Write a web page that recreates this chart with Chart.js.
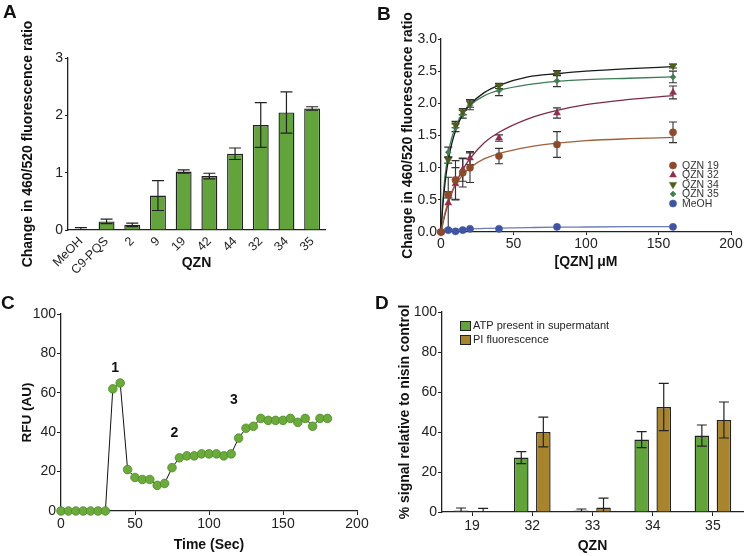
<!DOCTYPE html>
<html lang="en">
<head>
<meta charset="UTF-8">
<title>QZN fluorescence panels</title>
<script src="https://cdn.jsdelivr.net/npm/chart.js"></script>
<style>
  body { margin: 0; background: #fff; }
  #wrap { position: relative; width: 746px; height: 556px; background: #fff; }
  #wrap canvas { position: absolute; }
  .tag { position: absolute; font: bold 19px Arial, "Liberation Sans", sans-serif; line-height: 19px; color: #111; }
</style>
</head>
<body>
<div id="wrap">
  <canvas id="chartA" width="373" height="278" style="left:0;top:0"></canvas>
  <canvas id="chartB" width="373" height="278" style="left:373px;top:0"></canvas>
  <canvas id="chartC" width="373" height="278" style="left:0;top:278px"></canvas>
  <canvas id="chartD" width="373" height="278" style="left:373px;top:278px"></canvas>
  <div class="tag" style="left:3px;top:2px">A</div>
  <div class="tag" style="left:377px;top:4px">B</div>
  <div class="tag" style="left:1px;top:293px">C</div>
  <div class="tag" style="left:375px;top:293px">D</div>
</div>

<script>
// ---- panel A: ratio change per compound
const aLabels = ['MeOH', 'C9-PQS', '2', '9', '19', '42', '44', '32', '34', '35'];
const aValues = [0, 0.15, 0.09, 0.60, 1.02, 0.94, 1.33, 1.83, 2.05, 2.12];
const aErrors = [0.04, 0.04, 0.03, 0.26, 0.03, 0.05, 0.10, 0.39, 0.36, 0.03];

// ---- panel B: dose response
const bDoses = [0, 5, 10, 15, 20, 40, 80, 160];
const qzn19 = [0, 0.58, 0.81, 0.92, 1.00, 1.18, 1.36, 1.55];
const qzn19Err = [0, 0.05, 0.30, 0.22, 0.23, 0.12, 0.20, 0.16];
const qzn32 = [0, 0.45, 0.75, 0.97, 1.15, 1.46, 1.85, 2.17];
const qzn32Err = [0, 0.40, 0.25, 0.18, 0.10, 0.05, 0.08, 0.10];
const qzn34 = [0, 1.12, 1.67, 1.87, 2.00, 2.27, 2.47, 2.58];
const qzn34Err = [0, 0.05, 0.05, 0.05, 0.06, 0.04, 0.04, 0.03];
const qzn35 = [0, 1.24, 1.62, 1.83, 1.97, 2.20, 2.35, 2.41];
const qzn35Err = [0, 0.08, 0.06, 0.06, 0.07, 0.08, 0.09, 0.09];
const meoh = [0, 0.03, 0.01, 0.03, 0.05, 0.05, 0.08, 0.08];

// fitted curves
const fitX = [0, 1, 2, 3, 5, 7.5, 10, 15, 20, 30, 40, 60, 80, 100, 130, 160];
const fit19 = [0, 0.12, 0.23, 0.32, 0.47, 0.62, 0.73, 0.89, 1.00, 1.14, 1.22, 1.32, 1.38, 1.42, 1.45, 1.47];
const fit32 = [0, 0.10, 0.20, 0.29, 0.44, 0.61, 0.75, 0.97, 1.14, 1.39, 1.55, 1.76, 1.89, 1.98, 2.06, 2.12];
const fit34 = [0, 0.33, 0.59, 0.80, 1.11, 1.38, 1.57, 1.83, 1.98, 2.17, 2.28, 2.41, 2.46, 2.50, 2.54, 2.57];
const fit35 = [0, 0.40, 0.69, 0.91, 1.22, 1.47, 1.63, 1.85, 1.97, 2.12, 2.20, 2.29, 2.34, 2.37, 2.39, 2.41];
const fitMeoh = [0, 0.01, 0.02, 0.025, 0.03, 0.035, 0.04, 0.045, 0.05, 0.055, 0.06, 0.068, 0.075, 0.078, 0.082, 0.085];

// ---- panel C: time course
const cTime = [0, 5, 10, 15, 20, 25, 30, 35, 40, 45, 50, 55, 60, 65, 70, 75, 80, 85, 90, 95, 100,
  105, 110, 115, 120, 125, 130, 135, 140, 145, 150, 155, 160, 165, 170, 175, 180];
const cRfu = [0, 0, 0, 0, 0, 0, 0, 62, 65, 21, 17, 16, 16, 13, 14, 22, 27, 28, 28, 29, 29,
  29, 28, 29, 37, 42, 43, 47, 46, 46, 46, 47, 45, 47, 43, 47, 47];
const peakLabels = ['1', '2', '3'];
const peakLabelX = [36.5, 76.7, 116.9];
const peakLabelY = [72.6, 39.6, 56.3];

// ---- panel D: ATP release vs PI
const dLabels = ['19', '32', '33', '34', '35'];
const atpValues = [0.8, 27.2, 0.8, 36.2, 38.2];
const atpErrors = [1.2, 3.0, 0.7, 4.0, 5.3];
const piValues = [0.4, 40.0, 2.2, 52.5, 46.0];
const piErrors = [1.4, 7.4, 4.7, 11.8, 9.0];

const FONT = 'Arial, "Liberation Sans", sans-serif';
Chart.defaults.font.family = FONT;
Chart.defaults.color = '#222';
Chart.defaults.animation = false;
Chart.defaults.plugins.legend.display = false;
Chart.defaults.plugins.tooltip.enabled = false;

const GREEN = '#63a33c';
const BROWN = '#a8842f';
const INK = '#222';

// error bars drawn through the chart's own y scale
const errorBars = {
  id: 'errorBars',
  draw(chart, opts) {
    const ctx = chart.ctx, area = chart.chartArea;
    ctx.save();
    ctx.beginPath();
    ctx.rect(area.left - 10, area.top - 30, area.width + 20, area.height + 30);
    ctx.clip();
    ctx.strokeStyle = opts.color || INK;
    ctx.lineWidth = opts.width || 1.2;
    chart.data.datasets.forEach((ds, i) => {
      if (!ds.errors) return;
      const meta = chart.getDatasetMeta(i);
      const yScale = chart.scales[meta.yAxisID];
      meta.data.forEach((el, j) => {
        const e = ds.errors[j];
        if (!e) return;
        const raw = ds.data[j];
        const v = typeof raw === 'object' ? raw.y : raw;
        const x = el.x;
        const y1 = yScale.getPixelForValue(v + e);
        const y2 = yScale.getPixelForValue(v - e);
        const c = opts.cap / 2;
        ctx.beginPath();
        ctx.moveTo(x, y1); ctx.lineTo(x, y2);
        ctx.moveTo(x - c, y1); ctx.lineTo(x + c, y1);
        ctx.moveTo(x - c, y2); ctx.lineTo(x + c, y2);
        ctx.stroke();
      });
    });
    ctx.restore();
  },
  beforeDatasetsDraw(chart, args, opts) { if (!opts.after) this.draw(chart, opts); },
  afterDatasetsDraw(chart, args, opts) { if (opts.after) this.draw(chart, opts); }
};

function axis(extra) {
  return Object.assign({
    border: { display: true, color: INK, width: 1.3 },
    grid: { display: true, drawOnChartArea: false, drawTicks: true, tickLength: 4, color: INK, lineWidth: 1.2 }
  }, extra);
}
function title(text, size, pad) {
  return { display: true, text: text, color: '#111', font: { size: size, weight: 'bold' }, padding: pad };
}

// ---------------- A
new Chart(document.getElementById('chartA'), {
  type: 'bar',
  data: {
    labels: aLabels,
    datasets: [{
      data: aValues, errors: aErrors,
      backgroundColor: GREEN, borderColor: INK, borderWidth: 1.4,
      categoryPercentage: 1, barPercentage: 0.62
    }]
  },
  options: {
    responsive: false,
    layout: { padding: { left: 0, top: 58, right: 48, bottom: 0 } },
    plugins: { errorBars: { cap: 12, after: true } },
    scales: {
      x: axis({
        grid: { display: true, drawOnChartArea: false, drawTicks: false, color: INK },
        ticks: { font: { size: 12.5 }, autoSkip: false, maxRotation: 45, minRotation: 45, padding: 4, color: '#222' },
        title: title('QZN', 14, { top: 0, bottom: 6.6 }),
        afterFit: s => { s.height = 48; }
      }),
      y: axis({
        min: 0, max: 3,
        ticks: { stepSize: 1, font: { size: 14 }, padding: 2, color: '#222' },
        grid: { display: true, drawOnChartArea: false, drawTicks: true, tickLength: 3, color: INK },
        title: title('Change in 460/520 fluorescence ratio', 14, { top: 20, bottom: 0 }),
        afterFit: s => { s.width = 68; }
      })
    }
  },
  plugins: [errorBars]
});

// ---------------- B
const xy = (xs, ys) => xs.map((x, i) => ({ x: x, y: ys[i] }));
const bPoints = [
  { label: 'QZN 19', ys: qzn19, err: qzn19Err, color: '#8b4a2c', style: 'circle', rot: 0, r: 3.6 },
  { label: 'QZN 32', ys: qzn32, err: qzn32Err, color: '#8e2f4c', style: 'triangle', rot: 0, r: 4 },
  { label: 'QZN 34', ys: qzn34, err: qzn34Err, color: '#4d5e1c', style: 'triangle', rot: 180, r: 4.2 },
  { label: 'QZN 35', ys: qzn35, err: qzn35Err, color: '#3f7f50', style: 'rectRot', rot: 0, r: 3 },
  { label: 'MeOH', ys: meoh, err: null, color: '#3f55a2', style: 'circle', rot: 0, r: 3.6 }
];
const bFits = [
  { ys: fit19, color: '#a0603c' },
  { ys: fit32, color: '#7d2a48' },
  { ys: fit34, color: '#1a1a1a' },
  { ys: fit35, color: '#3d7d55' },
  { ys: fitMeoh, color: '#6a7bb8' }
];
const bDatasets = bPoints.map(p => ({
  label: p.label, data: xy(bDoses, p.ys), errors: p.err, showLine: false, clip: false,
  pointStyle: p.style, rotation: p.rot, pointRadius: p.r,
  backgroundColor: p.color, borderColor: p.color, pointBorderWidth: 0.5
})).concat(bFits.map(f => ({
  data: xy(fitX, f.ys), showLine: true, pointRadius: 0, borderColor: f.color,
  borderWidth: 1.3, cubicInterpolationMode: 'monotone', fill: false
})));

const bLegend = {
  id: 'bLegend',
  afterDraw(chart) {
    const ctx = chart.ctx;
    ctx.save();
    ctx.font = '10.5px ' + FONT;
    ctx.textBaseline = 'middle';
    ctx.textAlign = 'left';
    bPoints.forEach((p, i) => {
      const y = 165.5 + i * 9.5;
      ctx.fillStyle = p.color; ctx.strokeStyle = p.color; ctx.lineWidth = 0.5;
      Chart.helpers.drawPoint(ctx, { pointStyle: p.style, radius: p.r, rotation: p.rot, borderWidth: 0.5 }, 300, y);
      ctx.fillStyle = '#333';
      ctx.fillText(p.label, 309, y + 0.5);
    });
    ctx.restore();
  }
};

new Chart(document.getElementById('chartB'), {
  type: 'scatter',
  data: { datasets: bDatasets },
  options: {
    responsive: false,
    layout: { padding: { left: 0, top: 39, right: 15, bottom: 0 } },
    plugins: { errorBars: { cap: 8, after: false, color: '#333', width: 1.1 } },
    scales: {
      x: axis({
        type: 'linear', min: 0, max: 200,
        ticks: { stepSize: 50, font: { size: 14 }, padding: 1, color: '#222' },
        grid: { display: true, drawOnChartArea: false, drawTicks: true, tickLength: 3, color: INK },
        title: title('[QZN] \u03BCM', 14, { top: 0, bottom: 7.6 }),
        afterFit: s => { s.height = 46; }
      }),
      y: axis({
        min: 0, max: 3,
        ticks: { stepSize: 0.5, font: { size: 14 }, padding: 1, color: '#222', callback: v => v.toFixed(1) },
        grid: { display: true, drawOnChartArea: false, drawTicks: true, tickLength: 3, color: INK },
        title: title('Change in 460/520 fluorescence ratio', 14, { top: 26.6, bottom: 0 }),
        afterFit: s => { s.width = 68; }
      })
    }
  },
  plugins: [errorBars, bLegend]
});

// ---------------- C
const peakText = {
  id: 'peakText',
  afterDatasetsDraw(chart) {
    const { ctx, scales } = chart;
    ctx.save();
    ctx.font = 'bold 14px ' + FONT;
    ctx.fillStyle = '#111';
    ctx.textAlign = 'center';
    ctx.textBaseline = 'middle';
    peakLabels.forEach((t, i) => {
      ctx.fillText(t, scales.x.getPixelForValue(peakLabelX[i]), scales.y.getPixelForValue(peakLabelY[i]));
    });
    ctx.restore();
  }
};

new Chart(document.getElementById('chartC'), {
  type: 'scatter',
  data: {
    datasets: [{
      data: xy(cTime, cRfu), showLine: true, clip: false,
      borderColor: '#111', borderWidth: 1,
      pointRadius: 4.3, pointBackgroundColor: '#6cab3b', pointBorderColor: '#4c8a2a', pointBorderWidth: 0.8
    }]
  },
  options: {
    responsive: false,
    layout: { padding: { left: 0, top: 36, right: 16, bottom: 0 } },
    scales: {
      x: axis({
        type: 'linear', min: 0, max: 200,
        ticks: { stepSize: 50, font: { size: 14 }, padding: 1, color: '#222' },
        grid: { display: true, drawOnChartArea: false, drawTicks: true, tickLength: 4, color: INK },
        title: title('Time (Sec)', 14, { top: 0, bottom: 2 }),
        afterFit: s => { s.height = 45; }
      }),
      y: axis({
        min: 0, max: 100,
        ticks: { stepSize: 20, font: { size: 14 }, padding: 1, color: '#222' },
        grid: { display: true, drawOnChartArea: false, drawTicks: true, tickLength: 4, color: INK },
        title: title('RFU (AU)', 13.5, { top: 19, bottom: 0 }),
        afterFit: s => { s.width = 61; }
      })
    }
  },
  plugins: [peakText]
});

// ---------------- D
const dLegend = {
  id: 'dLegend',
  afterDraw(chart) {
    const ctx = chart.ctx;
    const items = [['ATP present in supermatant', GREEN], ['PI fluorescence', BROWN]];
    ctx.save();
    ctx.font = '11px ' + FONT;
    ctx.textBaseline = 'middle';
    items.forEach((it, i) => {
      const y = 43 + i * 14;
      ctx.fillStyle = it[1];
      ctx.fillRect(87, y, 10, 9);
      ctx.strokeStyle = INK; ctx.lineWidth = 1;
      ctx.strokeRect(87.5, y + 0.5, 10, 9);
      ctx.fillStyle = '#222';
      ctx.fillText(it[0], 100, y + 5);
    });
    ctx.restore();
  }
};

new Chart(document.getElementById('chartD'), {
  type: 'bar',
  data: {
    labels: dLabels,
    datasets: [
      { label: 'ATP present in supermatant', data: atpValues, errors: atpErrors,
        backgroundColor: GREEN, borderColor: INK, borderWidth: 1.4, categoryPercentage: 0.733, barPercentage: 0.66 },
      { label: 'PI fluorescence', data: piValues, errors: piErrors,
        backgroundColor: BROWN, borderColor: INK, borderWidth: 1.4, categoryPercentage: 0.733, barPercentage: 0.66 }
    ]
  },
  options: {
    responsive: false,
    layout: { padding: { left: 0, top: 34, right: 3, bottom: 0 } },
    plugins: { errorBars: { cap: 10, after: true } },
    scales: {
      x: axis({
        ticks: { font: { size: 14 }, padding: 2, color: '#222' },
        grid: { display: true, drawOnChartArea: false, drawTicks: true, tickLength: 4, offset: false, color: INK },
        title: title('QZN', 14, { top: 0, bottom: 1.6 }),
        afterFit: s => { s.height = 44; }
      }),
      y: axis({
        min: 0, max: 100,
        ticks: { stepSize: 20, font: { size: 14 }, padding: 1, color: '#222' },
        grid: { display: true, drawOnChartArea: false, drawTicks: true, tickLength: 4, color: INK },
        title: title('% signal relative to nisin control', 14, { top: 24, bottom: 0 }),
        afterFit: s => { s.width = 69; }
      })
    }
  },
  plugins: [errorBars, dLegend]
});
</script>
</body>
</html>
